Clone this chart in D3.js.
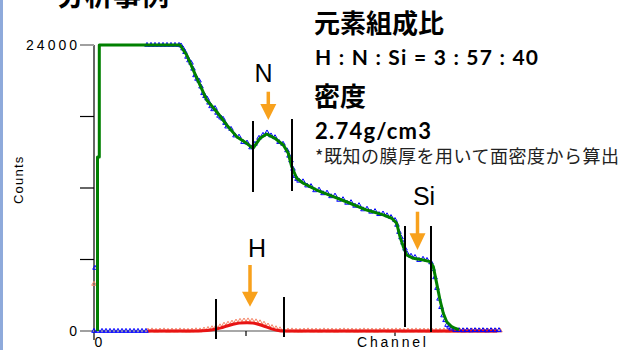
<!DOCTYPE html>
<html><head><meta charset="utf-8">
<script src="https://cdn.jsdelivr.net/npm/d3@7"></script>
<style>html,body{margin:0;padding:0;background:#fff;overflow:hidden}</style>
</head><body>
<svg id="c" width="621" height="350"></svg>
<script>
// ---- data (channel, counts) ----
const measuredMain = [[-2,5290],
[-3,0],[1,0],[5,0],[9,0],[13,0],[17,0],[21,0],[25,0],[29,0],[33,0],[37,0],[41,0],[45,0],[49,0],
[50,24000],[54,24000],[58,24000],[62,24000],[66,24000],[70,24000],[74,24000],[78,24000],[82,24000],
[84,23950],[86,23700],[88,23400],[90,23000],[92,22700],[94,22500],[96,22000],[98,21450],[100,21150],[102,21000],[104,20500],[106,19950],[108,19700],[110,19500],[112,19150],[114,18850],[116,18600],[118,18700],[120,18300],[122,18050],[124,17900],[126,17800],[128,17450],[130,17150],[134,16950],[138,16400],[142,16300],[146,15850],[150,15800],[154,15400],[158,15700],[162,16200],[166,16450],[170,16650],[174,16400],[178,16250],[182,15850],[186,15700],[190,15150],[192,14700],[194,14300],[196,13600],[198,13000],[200,12750],[202,12600],[206,12550],[210,12200],[214,12150],[218,11800],[222,11850],[226,11550],[230,11600],[234,11300],[238,11350],[242,11000],[246,11050],[250,10750],[254,10800],[258,10500],[262,10550],[266,10200],[270,10250],[274,10000],[278,10050],[282,9800],[286,9850],[290,9700],[294,9550],[298,9300],[300,8900],[302,8300],[304,7850],[306,7400],[308,6900],[310,6500],[314,6300],[318,6200],[322,5950],[326,6050],[330,5950],[334,5750],[336,5200],[338,4500],[340,3600],[342,2700],[344,2000],[346,1300],[348,900],[350,500],[352,350],[354,200],[358,80],[362,60],[366,50],[370,60],[374,40],[378,60],[382,50],[386,60],[390,40],[394,60],[398,50],[402,60]];

const fitMain = [[0.5,0],[0.5,14600],[2.3,14600],[2.3,24000],[83,24000],[89.7,23160],[96.3,21900],[103,20640],[109.7,19390],[119.7,18400],[129.7,17290],[139.7,16310],[149.7,15750],[156,15330],[163,16170],[169.7,16530],[178,16170],[186.3,15610],[191.3,14910],[194.7,13790],[199.7,12820],[206.3,12400],[213,12110],[219.7,11830],[236.3,11270],[253,10720],[269.7,10150],[286.3,9740],[294.7,9460],[299.7,9040],[303,7910],[306.3,7080],[309.7,6380],[316.3,6100],[326.3,5960],[333,5820],[336.3,5400],[339.7,4000],[343,2600],[346.3,1490],[349.7,780],[354.7,360],[358,230],[362,120]];

const measuredH = [[-3,3950],
[51,20],[55,40],[59,10],[63,30],[67,40],[71,10],[75,30],[79,20],[83,40],[87,20],[91,10],[95,30],[99,50],[103,40],[107,110],[111,160],[115,220],[119,330],[123,380],[127,520],[131,600],[135,690],[139,780],[143,840],[147,870],[151,880],[155,850],[159,800],[163,720],[167,600],[171,450],[175,320],[179,220],[183,130],[187,60],[191,30],[195,40],[199,20],[203,10],[207,30],[211,40],[215,20],[219,30],[223,10],[227,40],[231,20],[235,30],[239,10],[243,30],[247,40],[251,20],[255,30],[259,10],[263,20],[267,40],[271,20],[275,30],[279,10],[283,30],[287,50],[291,20],[295,20],[299,40],[303,30],[307,10],[311,30],[315,20],[319,40],[323,20],[327,30],[331,10],[335,30],[339,20],[343,20],[347,40],[351,10],[355,30],[359,20],[363,30],[367,10],[371,20],[375,40],[379,20],[383,30],[387,10],[391,30],[395,20],[399,20],[403,30]];

const fitH = [[51,0],[100,0],[110,40],[118,140],[124,260],[130,420],[136,560],[142,660],[150,700],[156,660],[162,540],[168,380],[174,200],[180,70],[187,0],[400,0]];

const yTickValues = [0, 6000, 12000, 18000, 24000];
const yTickLabels = ["0", "", "", "", "24000"];
const xTickValues = [0, 149, 298];
const xTickLabels = ["0", "", ""];

// annotation anchors in data units
const regionMarkers = [[156,17620,11660],[195,17790,11750],[308,8810,340],[334,8810,-80],[119,2690,-670],[187,2850,-500]];
const elementNames = ["N", "Si", "H"];
const labelAnchors = [[166.5,20900],[327,10570],[160,6210]];
const arrowAnchors = [[171.3,20080,19050,17700],[320.5,10010,8200,6800],[153,5540,3300,2040]];

const infoLines = ["元素組成比", "H : N : Si = 3 : 57 : 40", "密度", "2.74g/cm3", "*既知の膜厚を用いて面密度から算出"];

// ---- drawing ----
const svg = d3.select("#c");
const x = d3.scaleLinear().domain([0, 404]).range([97, 501]);
const y = d3.scaleLinear().domain([0, 24000]).range([331, 45]);

svg.append("rect").attr("x",0).attr("y",0).attr("width",621).attr("height",350).attr("fill","#fff");
svg.append("rect").attr("x",0).attr("y",0).attr("width",3).attr("height",350).attr("fill","#8eaadb");

// cut-off title (the reference shows only its lower edge)
svg.append("text").attr("x",57).attr("y",6).attr("font-family","'Noto Sans CJK JP'").attr("font-weight",700)
  .attr("font-size",28).attr("fill","#000").text("分析事例");

// axes
svg.append("line").attr("x1",x(-3)).attr("x2",x(403)).attr("y1",y(0)).attr("y2",y(0))
  .attr("stroke","#a8a8a8").attr("stroke-width",2);
svg.append("line").attr("x1",x(-3)).attr("x2",x(-3)).attr("y1",y(24000)).attr("y2",340)
  .attr("stroke","#000").attr("stroke-width",1.2);

const labelFont = "'Liberation Sans', Arial, sans-serif";
yTickValues.forEach((v,i)=>{
  const lab = yTickLabels[i];
  svg.append("line").attr("x1",80).attr("x2",x(-3)).attr("y1",y(v)).attr("y2",y(v))
    .attr("stroke", lab ? "#a0a0a0" : "#000").attr("stroke-width", lab ? 2 : 1.2);
  if (lab) svg.append("text").attr("x",77).attr("y",y(v)+5).attr("text-anchor","end")
    .attr("font-family",labelFont).attr("font-size",14).attr("letter-spacing","3px").attr("fill","#000")
    .text(lab).attr("dx", 3);
});
xTickValues.forEach((v,i)=>{
  if (i>0) svg.append("line").attr("x1",x(v)).attr("x2",x(v)).attr("y1",y(0)).attr("y2",y(0)+5)
    .attr("stroke","#000").attr("stroke-width",1.2);
  if (xTickLabels[i]) svg.append("text").attr("x",x(v)+1.5).attr("y",347).attr("text-anchor","middle")
    .attr("font-family",labelFont).attr("font-size",14).attr("fill","#000").text(xTickLabels[i]);
});
svg.append("text").attr("x",357).attr("y",347).attr("font-family",labelFont).attr("font-size",14)
  .attr("letter-spacing","2.8px").attr("fill","#000").text("Channel");
svg.append("text").attr("transform","translate(23,204) rotate(-90)").attr("font-family",labelFont)
  .attr("font-size",13).attr("letter-spacing","1.2px").attr("fill","#000").text("Counts");

// data
const tri = d3.symbol().type(d3.symbolTriangle).size(9);
const line = d3.line().x(d=>x(d[0])).y(d=>y(d[1]));

svg.append("g").selectAll("path").data(measuredH).join("path")
  .attr("transform",d=>`translate(${x(d[0])},${y(d[1])})`).attr("d",tri)
  .attr("fill","none").attr("stroke","#f5876a").attr("stroke-width",1);
svg.append("path").datum(fitH).attr("d",line.curve(d3.curveMonotoneX))
  .attr("fill","none").attr("stroke","#e81414").attr("stroke-width",3);
svg.append("g").selectAll("path").data(measuredMain).join("path")
  .attr("transform",d=>`translate(${x(d[0])},${y(d[1])})`).attr("d",tri)
  .attr("fill","none").attr("stroke","#0000ff").attr("stroke-width",1);
svg.append("path").datum(fitMain).attr("d",d3.line().x(d=>x(d[0])).y(d=>y(d[1])))
  .attr("fill","none").attr("stroke","#008000").attr("stroke-width",3).attr("stroke-linejoin","round");

// region markers
regionMarkers.forEach(m=>{
  svg.append("line").attr("x1",x(m[0])).attr("x2",x(m[0])).attr("y1",y(m[1])).attr("y2",y(m[2]))
    .attr("stroke","#000").attr("stroke-width",2);
});
// arrows
const orange = "#f8a11c";
arrowAnchors.forEach(a=>{
  const cx = x(a[0]);
  svg.append("line").attr("x1",cx).attr("x2",cx).attr("y1",y(a[1])).attr("y2",y(a[2])+1)
    .attr("stroke",orange).attr("stroke-width",3.5);
  svg.append("path").attr("d",`M${cx-8},${y(a[2])}L${cx+8},${y(a[2])}L${cx},${y(a[3])}Z`).attr("fill",orange);
});
labelAnchors.forEach((p,i)=>{
  svg.append("text").attr("x",x(p[0])).attr("y",y(p[1])).attr("text-anchor","middle")
    .attr("font-family",labelFont).attr("font-size",25).attr("fill","#000").text(elementNames[i]);
});

// info block
const cjk = "'Noto Sans CJK JP', sans-serif";
const lat = "Lato, 'Noto Sans', sans-serif";
svg.append("text").attr("x",314).attr("y",33).attr("font-family",cjk).attr("font-weight",700).attr("font-size",26).text(infoLines[0]);
svg.append("text").attr("x",315).attr("y",65).attr("font-family",lat).attr("font-weight",700).attr("font-size",21)
  .attr("textLength",223).attr("lengthAdjust","spacing").text(infoLines[1]);
svg.append("text").attr("x",314).attr("y",106).attr("font-family",cjk).attr("font-weight",700).attr("font-size",26).text(infoLines[2]);
svg.append("text").attr("x",315).attr("y",139).attr("font-family",lat).attr("font-weight",700).attr("font-size",22)
  .attr("textLength",116).attr("lengthAdjust","spacing").text(infoLines[3]);
svg.append("text").attr("x",315).attr("y",163).attr("font-family",cjk).attr("font-weight",400).attr("font-size",18)
  .attr("textLength",304).attr("lengthAdjust","spacing").attr("fill","#222").text(infoLines[4]);
</script>
</body></html>
